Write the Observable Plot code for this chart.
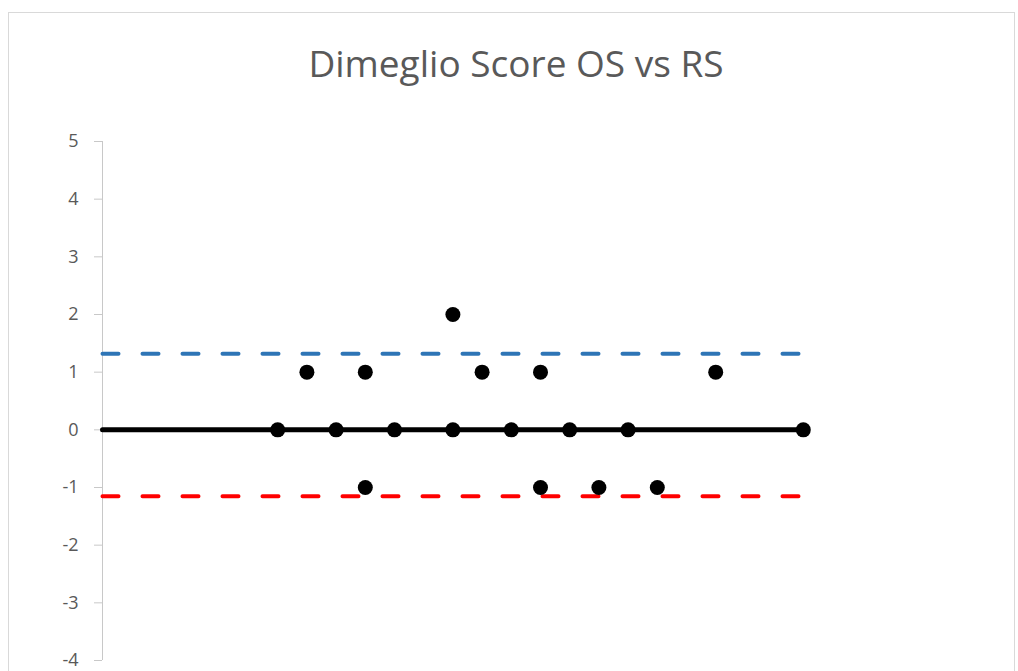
<!DOCTYPE html>
<html>
<head>
<meta charset="utf-8">
<script src="https://cdn.jsdelivr.net/npm/d3@7"></script>
<script src="https://cdn.jsdelivr.net/npm/@observablehq/plot@0.6"></script>
<style>
  html, body { margin: 0; padding: 0; background: #fff; overflow: hidden; width: 1018px; height: 671px; }
  #frame { position: absolute; left: 8px; top: 12px; width: 1007px; height: 700px; border: 1px solid #d9d9d9; box-sizing: border-box; }
  #title { position: absolute; left: 0; top: 44px; width: 1032px; text-align: center; font-family: "Open Sans", sans-serif; font-size: 37px; line-height: 1; color: #595959; }
  #chart { position: absolute; left: 0; top: 0; }
</style>
</head>
<body>
<div id="frame"></div>
<div id="chart"></div>
<div id="title">Dimeglio Score OS vs RS</div>
<script>
// Point data (mean, difference)
const xs = [6, 7, 8, 9, 9, 10, 12, 12, 13, 14, 15, 15, 16, 17, 18, 19, 21, 24];
const ys = [0, 1, 0, 1, -1, 0, 2, 0, 1, 0, 1, -1, 0, -1, 0, -1, 1, 0];
// Reference lines
const lineX = [0, 24];
const meanLine = [0, 0];
const upperLimit = [1.32, 1.32];
const lowerLimit = [-1.15, -1.15];
const yTicks = [-4, -3, -2, -1, 0, 1, 2, 3, 4, 5];

const points = xs.map((x, i) => ({x, y: ys[i]}));
const mkLine = (vals) => lineX.map((x, i) => ({x, y: vals[i]}));

const plot = Plot.plot({
  width: 1018,
  height: 700,
  marginLeft: 102,
  marginRight: 40,
  marginTop: 141,
  marginBottom: 40,
  x: { domain: [0, 30], axis: null },
  y: { domain: [-4, 5] },
  style: { fontFamily: "Open Sans, sans-serif", fontSize: "18px", color: "#595959", background: "transparent" },
  marks: [
    Plot.axisY({ ticks: yTicks, tickFormat: d => String(d), tickSize: 8, tickPadding: 16, stroke: "#c8c8c8", fill: "#595959", label: null, fontSize: 18 }),
    Plot.ruleX([0], { stroke: "#c8c8c8", strokeWidth: 1 }),
    Plot.line(mkLine(upperLimit), { x: "x", y: "y", stroke: "#2e75b6", strokeWidth: 4, strokeDasharray: "16,24", strokeLinecap: "round" }),
    Plot.line(mkLine(lowerLimit), { x: "x", y: "y", stroke: "#ff0000", strokeWidth: 4, strokeDasharray: "16,24", strokeLinecap: "round" }),
    Plot.line(mkLine(meanLine), { x: "x", y: "y", stroke: "#000", strokeWidth: 5 }),
    Plot.dot(points, { x: "x", y: "y", r: 7.5, fill: "#000", stroke: null })
  ]
});
document.getElementById("chart").appendChild(plot);
</script>
</body>
</html>
